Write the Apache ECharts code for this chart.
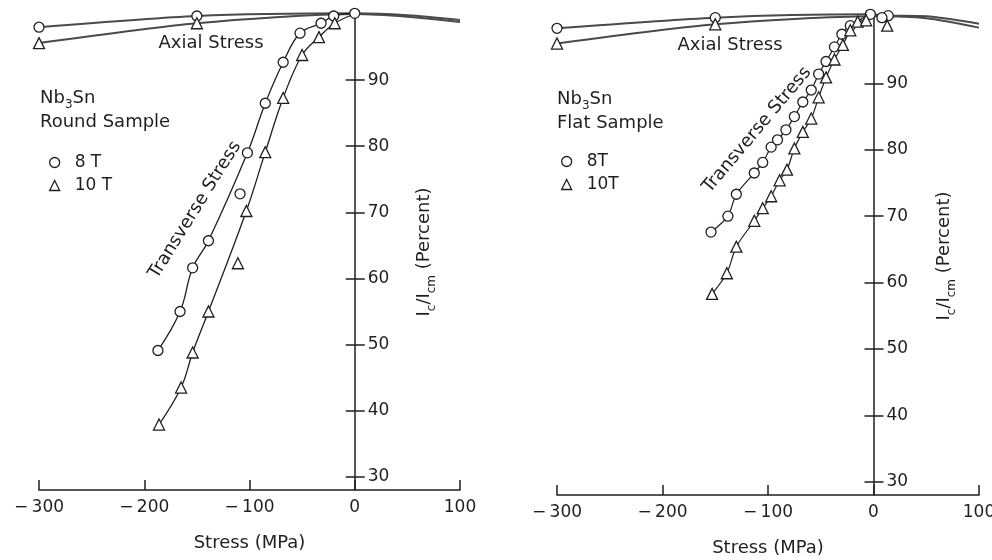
<!DOCTYPE html>
<html>
<head>
<meta charset="utf-8">
<script src="https://cdn.jsdelivr.net/npm/echarts@6/dist/echarts.min.js"></script>
<style>
  html, body { margin: 0; padding: 0; background: #fff; }
  #chart { width: 992px; height: 560px; }
</style>
</head>
<body>
<div id="chart"></div>
<script>
// stress axis (MPa) and Ic/Icm axis (percent)
var stressMin = -300;
var stressMax = 100;
var stressStep = 100;
var percentMin = 28;
var percentMax = 100;
var percentTicks = [30, 40, 50, 60, 70, 80, 90];

// ---- Round sample ----
// axial stress, measured points and the unmarked points the curve runs through
var roundAxial8 = [[-300, 98.0], [-150, 99.7]];
var roundAxial8Curve = [[0, 100.1], [50, 99.8], [100, 99.1]];
var roundAxial10 = [[-300, 95.6], [-150, 98.6]];
var roundAxial10Curve = [[0, 100.0], [50, 99.6], [100, 98.8]];
// transverse stress
var roundTrans8 = [[-187, 49.1], [-166, 55.0], [-154, 61.6], [-139, 65.7], [-102, 79.0], [-85, 86.5],
  [-68, 92.7], [-52, 97.1], [-32, 98.6], [-20, 99.7], [0, 100.1]];
var roundTrans8Off = [[-109, 72.8]];
var roundTrans10 = [[-186, 37.9], [-165, 43.5], [-154, 48.8], [-139, 55.0], [-103, 70.2], [-85, 79.1],
  [-68, 87.3], [-50, 93.8], [-34, 96.5], [-19, 98.6]];
var roundTrans10Curve = [[0, 100.0]];
var roundTrans10Off = [[-111, 62.3]];

// ---- Flat sample ----
var flatAxial8 = [[-300, 98.3], [-150, 99.9], [14, 100.2]];
var flatAxial8Curve = [[-3, 100.4], [50, 100.1], [100, 99.0]];
var flatAxial10 = [[-300, 96.0], [-150, 98.9]];
var flatAxial10Curve = [[0, 100.1], [50, 99.8], [100, 98.4]];
var flatTrans8 = [[-154, 67.6], [-138, 70.0], [-130, 73.3], [-113, 76.5], [-105, 78.1], [-97, 80.4],
  [-91, 81.5], [-83, 83.0], [-75, 85.0], [-67, 87.2], [-59, 89.0], [-52, 91.4], [-45, 93.3],
  [-37, 95.5], [-30, 97.4], [-22, 98.7], [-3, 100.4]];
var flatTrans8Off = [[8, 99.9]];
var flatTrans10 = [[-153, 58.3], [-139, 61.4], [-130, 65.4], [-113, 69.3], [-105, 71.2], [-97, 73.0],
  [-89, 75.4], [-82, 77.0], [-75, 80.2], [-67, 82.7], [-59, 84.7], [-52, 87.9], [-45, 90.9],
  [-37, 93.6], [-29, 95.8], [-22, 98.0], [-15, 99.3], [-7, 99.5]];
var flatTrans10Curve = [[0, 100.1]];
var flatTrans10Off = [[13, 98.7]];

var FONT = "DejaVu Sans";
var INK = "#1f1f1f";

var grids = [
  { left: 39, top: 14, width: 421, height: 476 },
  { left: 557, top: 17, width: 422, height: 478 },
];

var chart = echarts.init(document.getElementById("chart"), null, { renderer: "canvas" });

// marked points keep their symbol, curve-only points get none
function merge(marked, curve) {
  var pts = marked.map(function (p) { return { value: p }; });
  (curve || []).forEach(function (p) {
    pts.push({ value: p, symbol: "none" });
  });
  pts.sort(function (a, b) { return a.value[0] - b.value[0]; });
  return pts;
}

function markerStyle() {
  return { color: "#fff", borderColor: INK, borderWidth: 1.3, opacity: 1 };
}

function curve(name, grid, marked, extra, symbol, lineWidth, lineColor, smooth) {
  return {
    name: name,
    type: "line",
    xAxisIndex: grid,
    yAxisIndex: grid * 2,
    data: merge(marked, extra),
    symbol: symbol,
    symbolSize: symbol === "triangle" ? 11 : 10,
    smooth: smooth,
    clip: false,
    silent: true,
    lineStyle: { color: lineColor, width: lineWidth },
    itemStyle: markerStyle(),
    z: 3,
  };
}

function points(name, grid, pts, symbol) {
  return {
    name: name,
    type: "scatter",
    xAxisIndex: grid,
    yAxisIndex: grid * 2,
    data: pts,
    symbol: symbol,
    symbolSize: symbol === "triangle" ? 11 : 10,
    clip: false,
    silent: true,
    itemStyle: markerStyle(),
    z: 4,
  };
}

function fmtStress(v) {
  return v < 0 ? "\u2212\u2009" + Math.abs(v) : String(v);
}

var axisLine = { color: INK, width: 1.5 };
var tickText = { fontFamily: FONT, fontSize: 17, color: INK };

function xAxis(grid) {
  return {
    type: "value",
    gridIndex: grid,
    min: stressMin,
    max: stressMax,
    interval: stressStep,
    axisLine: { onZero: false, lineStyle: axisLine },
    axisTick: { inside: true, length: 10, lineStyle: axisLine },
    axisLabel: Object.assign({ formatter: fmtStress, margin: 9 }, tickText),
    splitLine: { show: false },
    name: "Stress (MPa)",
    nameLocation: "middle",
    nameGap: 44,
    nameTextStyle: { fontFamily: FONT, fontSize: 18, color: INK },
  };
}

// the percent axis stands at zero stress: shift it in from the grid edges
function yAxes(grid, nameGap) {
  var w = grids[grid].width;
  var fromLeft = (w * (0 - stressMin)) / (stressMax - stressMin);
  return [
    {
      type: "value",
      gridIndex: grid,
      position: "right",
      offset: -(w - fromLeft),
      min: percentMin,
      max: percentMax,
      axisLine: { onZero: false, lineStyle: axisLine },
      axisTick: { customValues: percentTicks, length: 10, lineStyle: axisLine },
      axisLabel: Object.assign({ customValues: percentTicks, margin: 13 }, tickText),
      splitLine: { show: false },
      name: "{i|I}{s|c}{i|/I}{s|cm}{i| (Percent)}",
      nameLocation: "middle",
      nameRotate: 90,
      nameGap: nameGap,
      nameTextStyle: {
        rich: {
          i: { fontFamily: FONT, fontSize: 18, color: INK, lineHeight: 26 },
          s: { fontFamily: FONT, fontSize: 12, color: INK, lineHeight: 12, verticalAlign: "bottom" },
        },
      },
    },
    {
      type: "value",
      gridIndex: grid,
      position: "left",
      offset: -fromLeft,
      min: percentMin,
      max: percentMax,
      axisLine: { show: false, onZero: false },
      axisTick: { customValues: percentTicks, length: 9, lineStyle: axisLine },
      axisLabel: { show: false },
      splitLine: { show: false },
    },
  ];
}

function label(text, x, y, opts) {
  opts = opts || {};
  return {
    type: "text",
    x: x,
    y: y,
    rotation: ((opts.rotate || 0) * Math.PI) / 180,
    silent: true,
    style: {
      text: text,
      fontFamily: FONT,
      fontSize: opts.size || 18,
      fill: INK,
      align: opts.align || "left",
      textAlign: opts.align || "left",
      verticalAlign: "middle",
      textVerticalAlign: "middle",
      rich: {
        a: { fontFamily: FONT, fontSize: opts.size || 18, fill: INK, lineHeight: 26 },
        s: { fontFamily: FONT, fontSize: 12, fill: INK, lineHeight: 12, verticalAlign: "bottom" },
      },
    },
  };
}

function legendFor(left, top, names) {
  return {
    left: left,
    top: top,
    orient: "vertical",
    itemWidth: 10,
    itemHeight: 10,
    itemGap: 6,
    selectedMode: false,
    data: [
      { name: names[0], icon: "circle" },
      { name: names[1], icon: "triangle" },
    ],
    itemStyle: { color: "#fff", borderColor: INK, borderWidth: 1.3 },
    textStyle: { fontFamily: FONT, fontSize: 17, color: INK, lineHeight: 17, padding: [0, 0, 0, 10] },
  };
}

var option = {
  animation: false,
  backgroundColor: "#fff",
  grid: grids.map(function (g) { return Object.assign({ outerBoundsMode: "none" }, g); }),
  xAxis: [xAxis(0), xAxis(1)],
  yAxis: yAxes(0, 57).concat(yAxes(1, 58)),
  legend: [legendFor(44, 149, ["8 T", "10 T"]), legendFor(556, 148, ["8T", "10T"])],
  graphic: [
    label("{a|Nb}{s|3}{a|Sn}", 40, 98),
    label("Round Sample", 40, 122),
    label("Axial Stress", 211, 43, { align: "center" }),
    label("Transverse Stress", 195, 210, { align: "center", rotate: 58 }),
    label("{a|Nb}{s|3}{a|Sn}", 557, 99),
    label("Flat Sample", 557, 123),
    label("Axial Stress", 730, 45, { align: "center" }),
    label("Transverse Stress", 757, 130, { align: "center", rotate: 50 }),
  ],
  series: [
    // round sample
    curve("8 T", 0, roundAxial8, roundAxial8Curve, "circle", 2, "#4a4a4a", 0.25),
    curve("10 T", 0, roundAxial10, roundAxial10Curve, "triangle", 2, "#4a4a4a", 0.25),
    curve("8 T", 0, roundTrans8, null, "circle", 1.3, INK, 0.4),
    curve("10 T", 0, roundTrans10, roundTrans10Curve, "triangle", 1.3, INK, 0.4),
    points("8 T", 0, roundTrans8Off, "circle"),
    points("10 T", 0, roundTrans10Off, "triangle"),
    // flat sample
    curve("8T", 1, flatAxial8, flatAxial8Curve, "circle", 2, "#4a4a4a", 0.25),
    curve("10T", 1, flatAxial10, flatAxial10Curve, "triangle", 2, "#4a4a4a", 0.25),
    curve("8T", 1, flatTrans8, null, "circle", 1.2, INK, 0.3),
    curve("10T", 1, flatTrans10, flatTrans10Curve, "triangle", 1.2, INK, 0.3),
    points("8T", 1, flatTrans8Off, "circle"),
    points("10T", 1, flatTrans10Off, "triangle"),
  ],
};

chart.setOption(option);
</script>
</body>
</html>
